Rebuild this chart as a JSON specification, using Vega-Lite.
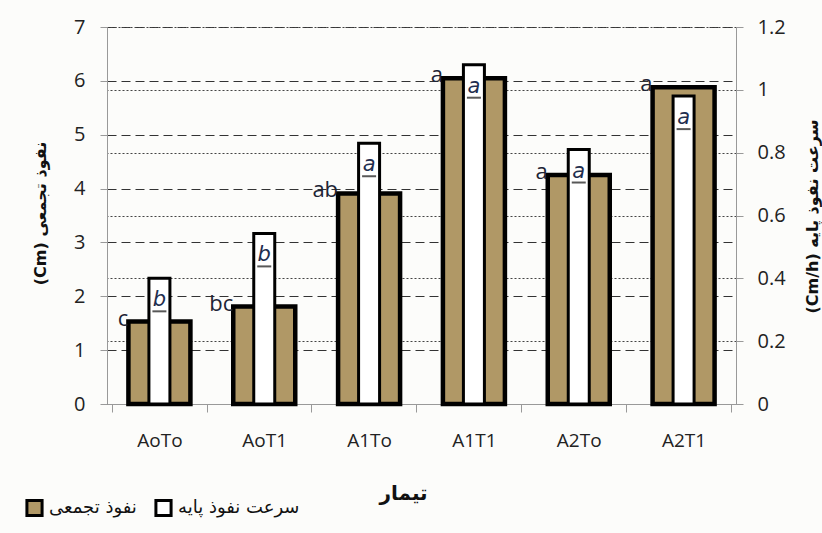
{
  "$schema": "https://vega.github.io/schema/vega-lite/v6.json",
  "width": 629,
  "height": 377,
  "autosize": {"type": "none"},
  "padding": {"left": 107, "top": 27, "right": 86, "bottom": 129},
  "background": "#fcfcfa",
  "config": {
    "view": {"stroke": null},
    "axis": {"labelFont": "Open Sans", "labelFontSize": 20, "labelColor": "#222", "titleFont": "DejaVu Sans", "titleFontWeight": "bold", "titleColor": "#111", "domainColor": "#999", "tickColor": "#999"}
  },
  "data": {
    "values": [
      {"t": "AoTo", "cum": 1.53, "rate": 0.40, "lc": "c", "lr": "b"},
      {"t": "AoT1", "cum": 1.81, "rate": 0.543, "lc": "bc", "lr": "b"},
      {"t": "A1To", "cum": 3.91, "rate": 0.83, "lc": "ab", "lr": "a"},
      {"t": "A1T1", "cum": 6.05, "rate": 1.08, "lc": "a", "lr": "a"},
      {"t": "A2To", "cum": 4.25, "rate": 0.81, "lc": "a", "lr": "a"},
      {"t": "A2T1", "cum": 5.88, "rate": 0.98, "lc": "a", "lr": "a"}
    ]
  },
  "encoding": {
    "x": {
      "field": "t", "type": "nominal", "sort": null,
      "title": "تیمار",
      "axis": {"labelAngle": 0, "labelFontSize": 19, "tickBand": "extent", "tickSize": 8, "labelPadding": 19, "titleFontSize": 20, "titleX": 296, "titleY": 89, "titleBaseline": "middle", "titleAlign": "center", "grid": false}
    }
  },
  "layer": [
    {
      "encoding": {
        "y": {
          "field": "cum", "type": "quantitative",
          "scale": {"domain": [0, 7]},
          "title": "(Cm) نفوذ تجمعی",
          "axis": {"orient": "left", "values": [0,1,2,3,4,5,6,7], "tickSize": 7, "labelPadding": 15, "grid": true, "gridDash": [9, 5], "gridColor": "#333", "gridWidth": 1.2, "titleFontSize": 16, "titleX": -67, "titleY": 186, "titleAngle": -90, "titleBaseline": "middle", "titleAlign": "center"}
        }
      },
      "layer": [
        {
          "mark": {"type": "bar", "size": 62, "stroke": "#000", "strokeWidth": 4.5},
          "encoding": {
            "fill": {"datum": "نفوذ تجمعی", "type": "nominal", "scale": {"domain": ["نفوذ تجمعی", "سرعت نفوذ پایه"], "range": ["#b09866", "#ffffff"]}, "legend": {"orient": "none", "legendX": -82, "legendY": 471, "direction": "horizontal", "title": null, "symbolType": "square", "symbolSize": 230, "symbolStrokeColor": "#000", "symbolStrokeWidth": 3, "symbolOpacity": 1, "labelFont": "DejaVu Sans", "labelFontSize": 18, "labelColor": "#111", "columnPadding": 12, "labelOffset": 5}}
          }
        },
        {
          "mark": {"type": "text", "align": "right", "baseline": "middle", "dx": -31, "dy": -3, "font": "Open Sans", "fontSize": 22, "color": "#1e2435"},
          "encoding": {"text": {"field": "lc"}}
        }
      ]
    },
    {
      "encoding": {
        "y": {
          "field": "rate", "type": "quantitative",
          "scale": {"domain": [0, 1.2]},
          "title": "(Cm/h) سرعت نفوذ پایه",
          "axis": {"orient": "right", "values": [0, 0.2, 0.4, 0.6, 0.8, 1, 1.2], "format": "~g", "tickSize": 7, "labelPadding": 14, "grid": true, "gridDash": [2, 2], "gridColor": "#444", "gridWidth": 1, "titleFontSize": 16, "titleX": 76, "titleY": 189, "titleAngle": -90, "titleBaseline": "middle", "titleAlign": "center"}
        }
      },
      "layer": [
        {
          "mark": {"type": "bar", "size": 21, "stroke": "#000", "strokeWidth": 3},
          "encoding": {
            "fill": {"datum": "سرعت نفوذ پایه", "type": "nominal"}
          }
        },
        {
          "mark": {"type": "text", "align": "center", "baseline": "middle", "dy": 22, "font": "DejaVu Sans", "fontStyle": "italic", "fontSize": 21, "color": "#1f2e4f"},
          "encoding": {"text": {"field": "lr"}}
        },
        {
          "mark": {"type": "tick", "size": 14, "thickness": 2, "yOffset": 33, "color": "#111"},
          "encoding": {}
        }
      ]
    }
  ],
  "resolve": {"scale": {"y": "independent"}}
}
